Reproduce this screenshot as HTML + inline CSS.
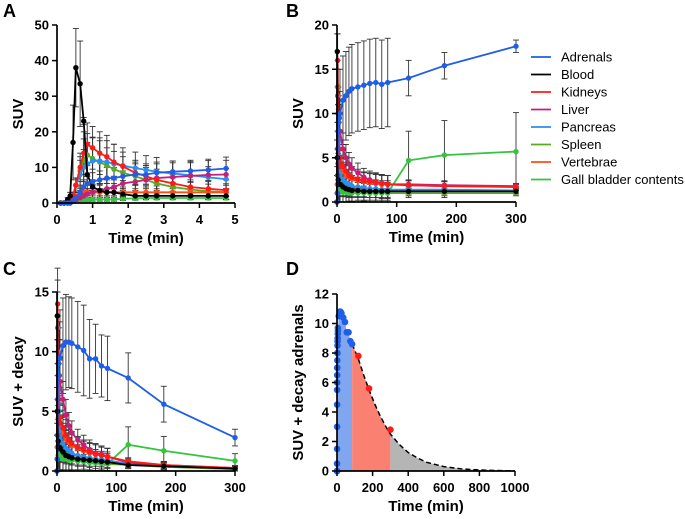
<!DOCTYPE html>
<html><head><meta charset="utf-8">
<style>
body{margin:0;background:#fff;}
svg{display:block;font-family:"Liberation Sans",Arial,sans-serif;}
.tl{font-size:13px;font-weight:bold;fill:#000;}
.at{font-size:15px;font-weight:bold;fill:#000;}
.pl{font-size:18px;font-weight:bold;fill:#000;}
.lg{font-size:13px;fill:#000;}
</style></head>
<body>
<svg id="fig" width="685" height="519" viewBox="0 0 685 519"></svg>
<script>
// ---- data ----
const seriesNames=["Adrenals","Blood","Kidneys","Liver","Pancreas","Spleen","Vertebrae","Gall bladder contents"];
const seriesColors=["#1f5ee6","#000000","#ff1a1a","#c4207a","#2b8ef0","#5aaa1e","#ff4d14","#35c43c"];
const tA=[0.1,0.2,0.3,0.37,0.45,0.53,0.65,0.75,0.85,1.0,1.2,1.4,1.6,1.85,2.2,2.5,2.8,3.25,3.75,4.25,4.75];
const aAdrenals=[0,0,0,0,0.5,1.5,3,4.5,5.5,6,6.5,7,7,7.5,8,8,8.5,8.8,9,9.3,9.7];
const aBlood=[0,0,1,2,17,38,33.5,23,8,4.5,3.5,3,3,2.5,2,2,2,2,2,2,2];
const aKidneys=[0,0,0,0.5,2,5,10,14,16.5,15.5,14,13,11.5,10.3,8.5,7.5,6.5,5.5,4.5,4,3.6];
const aLiver=[0,0,0,0,0.5,1,1.5,2,2.5,3,3.5,4,4.5,5.5,6,6.5,7,7.3,7.6,7.9,8];
const aPancreas=[0,0,0,0.5,2,5,8,10,11,11.8,11.8,11.5,11,10.5,9.8,9.3,8.8,8.3,7.8,7.2,6.7];
const aSpleen=[0,0,0,0.5,2,5,9,12,13.5,12.5,11.5,10.5,9.5,8.5,7.5,6.5,5.5,4.5,3.8,3.3,3];
const aVertebrae=[0,0,0,0.5,1,2,2.5,3,3,3,3,3,3,3,3,3,3,3,3,3,3];
const aGall=[0,0,0,0,0.5,1,1,1,1,1,1,1,1,1.2,1.3,1.4,1.4,1.4,1.4,1.4,1.4];
const eAdrenals=[0,0,0,0,0.5,1,1.5,2,2,2.5,2.5,3,3,3,3,3,3,3,3,3,3.2];
const eBlood=[0,0,0.5,1,10.5,11,12,1,3,2,1.5,1,1,1,1,1,1,1,1,1,1];
const eKidneys=[0,0,0,0.5,1,2,4,6,6,6,6,6,5,4,3.5,3,3,2.5,2,2,1.8];
const eLiver=[0,0,0,0,0.3,0.5,0.8,1,1.5,2,2,2.5,3,3.5,4,4,4,4,4,4,4];
const ePancreas=[0,0,0,0.5,1,2,4,5,6,6.5,6.5,6,5.5,5,4.5,4,4,3.5,3.5,3,3];
const eSpleen=[0,0,0,0.5,1,2,4,6,6,6,6,5,5,4.5,4,3.5,3,2.5,2,2,2];
const eVertebrae=[0,0,0,0.3,0.5,1,1,1,1,1,1,1,1,1,1,1,1,1,1,1,1];
const eGall=[0,0,0,0,0.2,0.5,0.5,0.5,0.5,0.5,0.5,0.5,0.5,0.5,0.5,0.5,0.5,0.5,0.5,0.5,0.5];
const tE=[0,0.5,1,2,3,4];
const eaAdrenals=[0,1,6,8,9,9.5];
const eaBlood=[0,17,5,2.5,2,2];
const eaKidneys=[0,5,16,10,6,4];
const eaLiver=[0,1,3,6,7.5,8];
const eaPancreas=[0,5,12,10,8,7];
const eaSpleen=[0,5,13,8,5,3];
const eaVertebrae=[0,2,3,3,3,3];
const eaGall=[0,1,1,1.3,1.4,1.4];
const ecaKidneys=[0,5,14,9,6,4];
const ecaBlood=[0,13,5,2.5,2,2];
const eeEarly=[0,2,3,3,3,3];
const tL=[5,10,15,20,25,35,45,55,65,75,85,120,180,300];
const bAdrenals=[10,11.5,12,12.5,12.8,13,13.2,13.4,13.5,13.3,13.5,14,15.4,17.6];
const bBlood=[2,1.7,1.5,1.4,1.3,1.3,1.2,1.2,1.2,1.2,1.2,1.2,1.2,1.2];
const bKidneys=[5,4,3.5,3,2.8,2.6,2.4,2.3,2.2,2.1,2,1.9,1.8,1.7];
const bLiver=[8,6,5,4.3,3.8,3.3,2.8,2.5,2.3,2.1,2,2,1.9,1.8];
const bPancreas=[3,2.5,2.2,2,1.8,1.7,1.6,1.5,1.5,1.4,1.4,1.4,1.4,1.3];
const bSpleen=[2,1.7,1.5,1.3,1.2,1.1,1.1,1,1,1,1,1,1,1];
const bVertebrae=[4,3.5,3,2.8,2.6,2.4,2.3,2.2,2.1,2,2,1.9,1.8,1.7];
const bGall=[1.2,1.1,1.1,1,1,1,1,1,1,1,1,4.7,5.3,5.7];
const ebAdrenals=[5,5,5,5,5,5,5,5,5,5,5,2,1.5,0.7];
const ebGall=[0.5,0.5,0.5,0.5,0.5,0.5,0.5,0.5,0.5,0.5,0.5,3.3,3.9,4.4];
const ebMinor=[2,1.8,1.5,1.3,1.2,1.1,1,1,1,1,1,0.5,0.5,0.3];
const cAdrenals=[9.5,10.5,10.8,10.8,10.7,10.4,10.1,9.4,9.4,8.8,8.6,7.8,5.6,2.8];
const cBlood=[1.9,1.6,1.3,1.2,1.1,1,0.95,0.9,0.85,0.8,0.75,0.5,0.4,0.2];
const cKidneys=[4.5,3.6,3,2.6,2.3,2,1.8,1.6,1.4,1.3,1.2,0.8,0.5,0.25];
const cLiver=[7.5,6,4.7,3.8,3.2,2.6,2.2,1.8,1.5,1.4,1.2,0.7,0.45,0.25];
const cPancreas=[2.8,2.3,1.9,1.7,1.5,1.3,1.2,1.1,1,0.95,0.9,0.6,0.4,0.2];
const cSpleen=[1.9,1.5,1.3,1.1,1,0.9,0.8,0.7,0.7,0.65,0.6,0.5,0.35,0.15];
const cVertebrae=[3.8,3.2,2.7,2.4,2.1,1.9,1.7,1.5,1.4,1.3,1.2,0.8,0.5,0.25];
const cGall=[1.1,1,1,0.9,0.9,0.8,0.8,0.7,0.7,0.7,0.6,2.2,1.7,0.85];
const ecAdrenals=[4,4,4,3.8,3.8,3.8,3.8,3.3,2.9,2.6,2.7,2.1,1.5,0.7];
const ecGall=[0.3,0.3,0.3,0.3,0.3,0.3,0.3,0.3,0.3,0.3,0.3,1.5,1.2,0.6];
const ecMinor=[1.8,1.5,1.3,1.1,1,0.9,0.8,0.8,0.8,0.7,0.7,0.3,0.3,0.2];
const dCurveT=[85,120,150,180,210,240,270,300,350,400,450,500,600,700,800,900,1000];
const dCurveV=[8.6,7.6,6.5,5.5,4.6,3.8,3.1,2.5,1.8,1.25,0.9,0.6,0.3,0.14,0.07,0.03,0.01];
const xTicksA=[0,1,2,3,4,5], yTicksA=[0,10,20,30,40,50];
const xTicksB=[0,100,200,300], yTicksB=[0,5,10,15,20];
const xTicksC=[0,100,200,300], yTicksC=[0,5,10,15];
const xTicksD=[0,200,400,600,800,1000], yTicksD=[0,2,4,6,8,10,12];

const NS="http://www.w3.org/2000/svg";
const svg=document.getElementById('fig');
function mk(tag,attrs,parent){const e=document.createElementNS(NS,tag);for(const k in attrs)e.setAttribute(k,attrs[k]);(parent||svg).appendChild(e);return e;}
function scale(d0,d1,r0,r1){return v=>r0+(v-d0)/(d1-d0)*(r1-r0);}

function axes(g,X,Y,x0,x1,y0,y1,xt,yt,xtitle,ytitle,name){
  const xa=mk('g',{},g);
  
  
  mk('line',{x1:X(x0),x2:X(x1),y1:Y(y0),y2:Y(y0),stroke:'#000','stroke-width':1.7},xa);
  xt.forEach(v=>{mk('line',{x1:X(v),x2:X(v),y1:Y(y0),y2:Y(y0)+5,stroke:'#000','stroke-width':1.5},xa);
    const t=mk('text',{x:X(v),y:Y(y0)+21,'text-anchor':'middle',class:'tl'},xa);t.textContent=v;});
  const ya=mk('g',{},g);
  
  
  mk('line',{x1:X(x0),x2:X(x0),y1:Y(y0),y2:Y(y1),stroke:'#000','stroke-width':1.7},ya);
  yt.forEach(v=>{mk('line',{x1:X(x0)-5,x2:X(x0),y1:Y(v),y2:Y(v),stroke:'#000','stroke-width':1.5},ya);
    const t=mk('text',{x:X(x0)-8,y:Y(v)+4.5,'text-anchor':'end',class:'tl'},ya);t.textContent=v;});
  const xtl=mk('text',{x:(X(x0)+X(x1))/2,y:Y(y0)+40,'text-anchor':'middle',class:'at'},g);
  xtl.textContent=xtitle;
  
  
  const cy=(Y(y0)+Y(y1))/2, cx=X(x0)-34;
  const ytl=mk('text',{x:cx,y:cy,'text-anchor':'middle',class:'at',transform:`rotate(-90 ${cx} ${cy})`},g);
  ytl.textContent=ytitle;
  
  
}

function plotSeries(g,X,Y,ts,valsList,errList,name){
  valsList.forEach((vals,i)=>{
    const eg=mk('g',{},g);
    
    
    vals.forEach((v,j)=>{const e=errList[i][j];if(!e)return;const x=X(ts[j]);
      mk('line',{x1:x,x2:x,y1:Y(v+e),y2:Y(Math.max(0,v-e)),stroke:'#333','stroke-width':0.9},eg);
      mk('line',{x1:x-3,x2:x+3,y1:Y(v+e),y2:Y(v+e),stroke:'#333','stroke-width':0.9},eg);
      mk('line',{x1:x-3,x2:x+3,y1:Y(Math.max(0,v-e)),y2:Y(Math.max(0,v-e)),stroke:'#333','stroke-width':0.9},eg);});
  });
  const order=[5,7,6,4,3,2,1,0];
  order.forEach(i=>{
    const vals=valsList[i];
    const sg=mk('g',{},g);
    
    
    mk('polyline',{points:vals.map((v,j)=>X(ts[j])+','+Y(v)).join(' '),fill:'none',stroke:seriesColors[i],'stroke-width':1.8},sg);
    vals.forEach((v,j)=>mk('circle',{cx:X(ts[j]),cy:Y(v),r:2.7,fill:seriesColors[i]},sg));
  });
}

function label(txt,x,y){const t=mk('text',{x:x,y:y,class:'pl'});t.textContent=txt;
  
  }

// Panel A
const gA=mk('g',{});


{const X=scale(0,5,57,235),Y=scale(0,50,203,25);
 plotSeries(gA,X,Y,tA,[aAdrenals,aBlood,aKidneys,aLiver,aPancreas,aSpleen,aVertebrae,aGall],[eAdrenals,eBlood,eKidneys,eLiver,ePancreas,eSpleen,eVertebrae,eGall],'panel-a');
 axes(gA,X,Y,0,5,0,50,xTicksA,yTicksA,'Time (min)','SUV','panel-a');}
label('A',3,17);

// Panel B
const gB=mk('g',{});


{const X=scale(0,300,337,516),Y=scale(0,20,202,25);const ts=tE.concat(tL);
 plotSeries(gB,X,Y,ts,[eaAdrenals.concat(bAdrenals),eaBlood.concat(bBlood),eaKidneys.concat(bKidneys),eaLiver.concat(bLiver),eaPancreas.concat(bPancreas),eaSpleen.concat(bSpleen),eaVertebrae.concat(bVertebrae),eaGall.concat(bGall)],
 [eeEarly.concat(ebAdrenals),eeEarly.concat(ebMinor),eeEarly.concat(ebMinor),eeEarly.concat(ebMinor),eeEarly.concat(ebMinor),eeEarly.concat(ebMinor),eeEarly.concat(ebMinor),eeEarly.concat(ebGall)],'panel-b');
 axes(gB,X,Y,0,300,0,20,xTicksB,yTicksB,'Time (min)','SUV','panel-b');}
label('B',286,17);

// Legend
const lg=mk('g',{});


seriesNames.forEach((n,i)=>{const y=57+i*17.5;const e=mk('g',{},lg);
  
  
  mk('line',{x1:531,x2:551,y1:y,y2:y,stroke:seriesColors[i],'stroke-width':1.8},e);
  const t=mk('text',{x:561,y:y+4.5,class:'lg'},e);t.textContent=n;});

// Panel C
const gC=mk('g',{});


{const X=scale(0,300,57,235),Y=scale(0,15,471,292);const ts=tE.concat(tL);
 plotSeries(gC,X,Y,ts,[eaAdrenals.concat(cAdrenals),ecaBlood.concat(cBlood),ecaKidneys.concat(cKidneys),eaLiver.concat(cLiver),eaPancreas.concat(cPancreas),eaSpleen.concat(cSpleen),eaVertebrae.concat(cVertebrae),eaGall.concat(cGall)],
 [eeEarly.concat(ecAdrenals),eeEarly.concat(ecMinor),eeEarly.concat(ecMinor),eeEarly.concat(ecMinor),eeEarly.concat(ecMinor),eeEarly.concat(ecMinor),eeEarly.concat(ecMinor),eeEarly.concat(ecGall)],'panel-c');
 axes(gC,X,Y,0,300,0,15,xTicksC,yTicksC,'Time (min)','SUV + decay','panel-c');}
label('C',3,275);

// Panel D
const gD=mk('g',{});


{const X=scale(0,1000,337,515),Y=scale(0,12,471,294);
 const ts=tA.concat(tL), vs=aAdrenals.concat(cAdrenals);
 const blueT=[],blueV=[],redT=[],redV=[];
 ts.forEach((t,j)=>{if(t<=90){blueT.push(t);blueV.push(vs[j]);}else{redT.push(t);redV.push(vs[j]);}});
 let p='M'+X(0)+','+Y(0);blueT.forEach((t,j)=>p+=' L'+X(t)+','+Y(blueV[j]));p+=' L'+X(blueT[blueT.length-1])+','+Y(0)+' Z';
 const ab=mk('path',{d:p,fill:'#7fa6ee'},gD);
 
 
 const area=(lo,hi,col,nm)=>{let q='M'+X(lo)+','+Y(0);dCurveT.forEach((t,j)=>{if(t>=lo&&t<=hi)q+=' L'+X(t)+','+Y(dCurveV[j]);});q+=' L'+X(hi)+','+Y(0)+' Z';
   const a=mk('path',{d:q,fill:col},gD);
   
   };
 area(85,300,'#fa8072','area-interpolated');
 area(300,1000,'#b5b5b5','area-extrapolated');
 const cv=mk('polyline',{points:dCurveT.map((t,j)=>X(t)+','+Y(dCurveV[j])).join(' '),fill:'none',stroke:'#000','stroke-width':1.5,'stroke-dasharray':'5,3'},gD);
 
 
 blueT.forEach((t,j)=>mk('circle',{cx:X(t),cy:Y(blueV[j]),r:3.3,fill:'#1f5ee6'},gD));
 redT.forEach((t,j)=>mk('circle',{cx:X(t),cy:Y(redV[j]),r:3.3,fill:'#ff1a1a'},gD));
 axes(gD,X,Y,0,1000,0,12,xTicksD,yTicksD,'Time (min)','SUV + decay adrenals','panel-d');}
label('D',286,275);
</script>
</body></html>
